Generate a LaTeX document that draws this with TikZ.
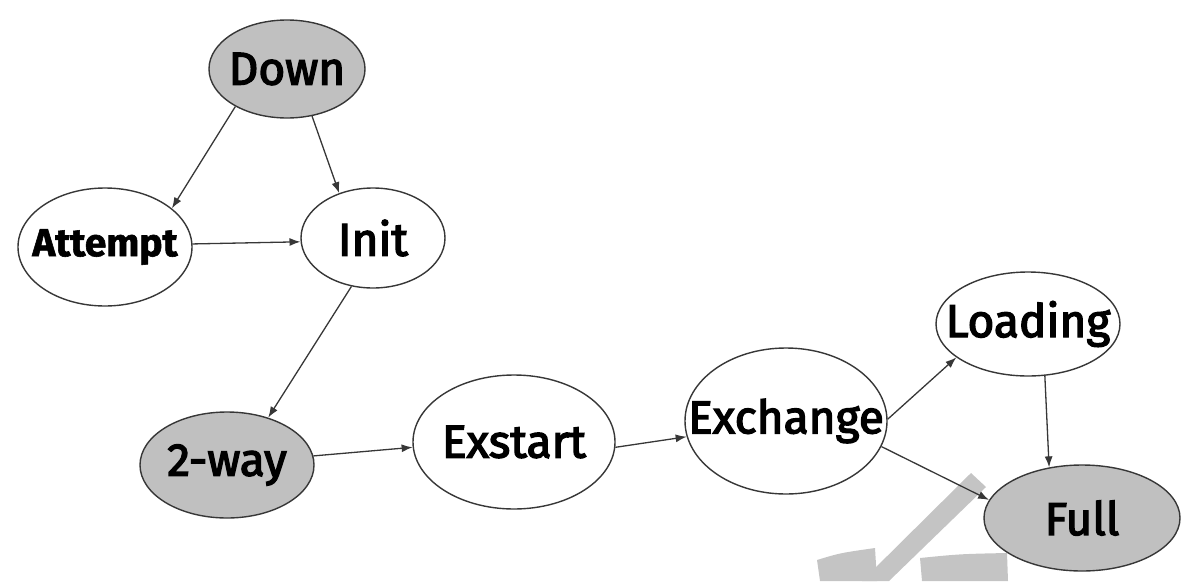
\documentclass[tikz,border=0pt]{standalone}
\usepackage{fontspec}
\setmainfont{Fira Sans}
\newfontfamily\lblfont{Fira Sans}[FakeBold=3]
\newfontfamily\lblboldfont{Fira Sans Bold}[FakeBold=1.5]
\usetikzlibrary{shapes.geometric,arrows.meta}
\definecolor{stategray}{RGB}{192,192,192}
\definecolor{wmgray}{RGB}{196,196,196}
\definecolor{linegray}{RGB}{55,55,55}
\tikzset{
  state/.style={ellipse, draw=linegray, line width=1.4pt, inner sep=0pt, fill=white},
  shaded/.style={fill=stategray},
  txt/.style={inner sep=0pt, font=\lblfont\fontsize{46}{50}\selectfont},
  smalltxt/.style={inner sep=0pt, font=\lblboldfont\fontsize{39}{44}\selectfont},
  conn/.style={draw=linegray, line width=1.3pt, -{Latex[length=11pt,width=8pt]}},
  wm/.style={fill=wmgray, draw=none}
}
\begin{document}
\begin{tikzpicture}[x=1pt,y=-1pt]
\useasboundingbox (0,0) rectangle (1191,581);
% watermark
\fill[wm] (971,473) -- (986,487) -- (889,581) -- (862,581) -- cycle;
\fill[wm] (817,560) .. controls (840,553) .. (875,548) -- (877,581) -- (820,581) -- cycle;
\fill[wm] (920,558) .. controls (960,554) .. (1007,553) -- (1008,581) -- (922,581) -- cycle;
% nodes
\node[state, shaded, minimum width=156pt, minimum height=98pt, label={[txt]center:Down}] (down) at (287,69) {};
\node[state, minimum width=174pt, minimum height=118pt, label={[smalltxt]center:Attempt}] (attempt) at (105,247) {};
\node[state, minimum width=144pt, minimum height=100pt, label={[txt]center:Init}] (init) at (373,238) {};
\node[state, shaded, minimum width=174pt, minimum height=106pt, label={[txt]center:2-way}] (twoway) at (227,465) {};
\node[state, minimum width=202pt, minimum height=134pt, label={[txt]center:Exstart}] (exstart) at (514,442) {};
\node[state, minimum width=202pt, minimum height=146pt, label={[txt]center:Exchange}] (exchange) at (786,421) {};
\node[state, minimum width=184pt, minimum height=104pt, label={[txt]center:Loading}] (loading) at (1028,324) {};
\node[state, shaded, minimum width=196pt, minimum height=106pt, label={[txt]center:Full}] (full) at (1082,518) {};
% connectors
\draw[conn] (down.216.7) -- (attempt.30.8);
\draw[conn] (down.298) -- (init.127.5);
\draw[conn] (attempt.2.6) -- (init.183);
\draw[conn] (init.246.8) -- (twoway.49.7);
\draw[conn] (twoway.6.5) -- (exstart.183.4);
\draw[conn] (exstart.357.7) -- (exchange.189);
\draw[conn] (exchange.1.7) -- (loading.205);
\draw[conn] (exchange.345.6) -- (full.169.8);
\draw[conn] (loading.288.8) -- (full.123.4);
\end{tikzpicture}
\end{document}
